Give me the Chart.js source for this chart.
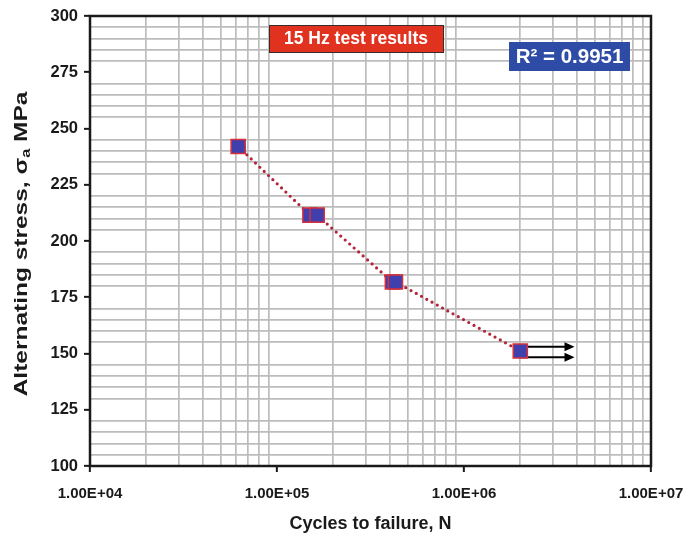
<!DOCTYPE html>
<html>
<head>
<meta charset="utf-8">
<script src="https://cdn.jsdelivr.net/npm/chart.js@4"></script>
<style>
  html, body { margin: 0; padding: 0; background: #fff; }
</style>
</head>
<body>
<canvas id="snChart" width="690" height="541"></canvas>
<script>
// fatigue test data
const cycles = [6.2e4, 1.50e5, 1.64e5, 4.14e5, 4.30e5, 2.0e6];
const stress = [242, 211.5, 211.5, 181.8, 181.8, 151.1];

// run-out arrows at the last point
const runoutFrom   = [2.0e6, 2.0e6];
const runoutTo     = [3.9e6, 3.9e6];
const runoutStress = [153.0, 148.3];

const xMajorTicks = [1e4, 1e5, 1e6, 1e7];
const yMajorTicks = [100, 125, 150, 175, 200, 225, 250, 275, 300];
const yMinorStep = 5;

const testLabel = '15 Hz test results';
const r2Label = 'R² = 0.9951';

const FONT = '"Liberation Sans", Arial, sans-serif';
const GRID = '#bcbcbc';

function isMajorX(v) {
  return xMajorTicks.some(t => Math.abs(Math.log10(v) - Math.log10(t)) < 1e-6);
}
function isMajorY(v) {
  return yMajorTicks.includes(v);
}
function sciLabel(v) {
  const exp = Math.round(Math.log10(v));
  return '1.00E+' + String(exp).padStart(2, '0');
}

// frame, arrows, text boxes and axis titles
const extras = {
  id: 'extras',
  beforeDatasetsDraw(chart) {
    const { ctx, scales: { x, y } } = chart;
    ctx.save();
    ctx.strokeStyle = '#000';
    ctx.fillStyle = '#000';
    ctx.lineWidth = 2;
    for (let i = 0; i < runoutStress.length; i++) {
      const x1 = x.getPixelForValue(runoutFrom[i]);
      const x2 = x.getPixelForValue(runoutTo[i]);
      const py = y.getPixelForValue(runoutStress[i]);
      ctx.beginPath();
      ctx.moveTo(x1, py);
      ctx.lineTo(x2 - 6, py);
      ctx.stroke();
      ctx.beginPath();
      ctx.moveTo(x2, py);
      ctx.lineTo(x2 - 10, py - 4.5);
      ctx.lineTo(x2 - 10, py + 4.5);
      ctx.closePath();
      ctx.fill();
    }
    ctx.restore();
  },
  afterDraw(chart) {
    const { ctx, chartArea: a } = chart;
    ctx.save();

    // plot frame
    ctx.strokeStyle = '#1a1a1a';
    ctx.lineWidth = 2.5;
    ctx.strokeRect(a.left, a.top, a.right - a.left, a.bottom - a.top);

    // red label box
    ctx.fillStyle = '#e0321f';
    ctx.fillRect(269, 25, 174, 27);
    ctx.strokeStyle = '#3a2a2a';
    ctx.lineWidth = 1;
    ctx.strokeRect(269.5, 25.5, 174, 27);
    ctx.fillStyle = '#fff';
    ctx.font = 'bold 17.5px ' + FONT;
    ctx.textAlign = 'center';
    ctx.textBaseline = 'middle';
    ctx.fillText(testLabel, 356, 39);

    // blue R² box
    ctx.fillStyle = '#2e4ca6';
    ctx.fillRect(509, 42, 121, 29);
    ctx.fillStyle = '#fff';
    ctx.font = 'bold 20.5px ' + FONT;
    ctx.fillText(r2Label, 569.5, 57);

    // x title
    ctx.fillStyle = '#1a1a1a';
    ctx.font = 'bold 18px ' + FONT;
    ctx.fillText('Cycles to failure, N', (a.left + a.right) / 2, 524);

    // y title with subscript a, stretched along its length like the original
    ctx.translate(22, (a.top + a.bottom) / 2 + 3);
    ctx.rotate(-Math.PI / 2);
    ctx.scale(1.36, 1);
    const big = 'bold 18px ' + FONT;
    const small = 'bold 12px ' + FONT;
    const p1 = 'Alternating stress, σ';
    const p2 = 'a';
    const p3 = ' MPa';
    ctx.font = big;
    const w1 = ctx.measureText(p1).width;
    const w3 = ctx.measureText(p3).width;
    ctx.font = small;
    const w2 = ctx.measureText(p2).width;
    let cx = -(w1 + w2 + w3) / 2;
    ctx.textAlign = 'left';
    ctx.font = big;
    ctx.fillText(p1, cx, 0);
    cx += w1;
    ctx.font = small;
    ctx.fillText(p2, cx, 5);
    cx += w2;
    ctx.font = big;
    ctx.fillText(p3, cx, 0);

    ctx.restore();
  }
};

const points = cycles.map((c, i) => ({ x: c, y: stress[i] }));

new Chart(document.getElementById('snChart'), {
  type: 'line',
  data: {
    datasets: [{
      data: points,
      borderColor: '#b3243a',
      borderWidth: 3.2,
      borderDash: [0, 6],
      borderCapStyle: 'round',
      pointStyle: 'rect',
      pointRadius: 10,
      pointBackgroundColor: '#3f3fae',
      pointBorderColor: '#d8303a',
      pointBorderWidth: 1.5,
      tension: 0,
      fill: false
    }]
  },
  options: {
    responsive: false,
    animation: false,
    layout: { padding: { top: 16, right: 39, left: 0, bottom: 0 } },
    plugins: {
      legend: { display: false },
      tooltip: { enabled: false }
    },
    scales: {
      x: {
        type: 'logarithmic',
        min: xMajorTicks[0],
        max: xMajorTicks[xMajorTicks.length - 1],
        afterBuildTicks: (scale) => {
          const ticks = [];
          for (let k = 0; k < xMajorTicks.length - 1; k++) {
            for (let m = 1; m <= 9; m++) ticks.push({ value: m * xMajorTicks[k] });
          }
          ticks.push({ value: xMajorTicks[xMajorTicks.length - 1] });
          scale.ticks = ticks;
        },
        afterFit: (scale) => {
          scale.height = 75;
          scale.paddingLeft = 0;
          scale.paddingRight = 0;
        },
        border: { display: false },
        grid: {
          color: (c) => isMajorX(c.tick.value) ? 'rgba(0,0,0,0)' : GRID,
          lineWidth: 1.7,
          tickColor: (c) => isMajorX(c.tick.value) ? '#1a1a1a' : 'rgba(0,0,0,0)',
          tickWidth: 2,
          tickLength: 6
        },
        ticks: {
          autoSkip: false,
          maxRotation: 0,
          padding: 13,
          color: '#1a1a1a',
          font: { family: FONT, size: 15, weight: 'bold' },
          callback: (v) => isMajorX(v) ? sciLabel(v) : ''
        }
      },
      y: {
        type: 'linear',
        min: yMajorTicks[0],
        max: yMajorTicks[yMajorTicks.length - 1],
        afterFit: (scale) => { scale.width = 90; },
        border: { display: false },
        grid: {
          color: (c) => isMajorY(c.tick.value) ? 'rgba(0,0,0,0)' : GRID,
          lineWidth: 1.7,
          tickColor: (c) => isMajorY(c.tick.value) ? '#1a1a1a' : 'rgba(0,0,0,0)',
          tickWidth: 2,
          tickLength: 6
        },
        ticks: {
          stepSize: yMinorStep,
          autoSkip: false,
          padding: 6,
          color: '#1a1a1a',
          font: { family: FONT, size: 16.5, weight: 'bold' },
          callback: (v) => isMajorY(v) ? String(v) : ''
        }
      }
    }
  },
  plugins: [extras]
});
</script>
</body>
</html>
